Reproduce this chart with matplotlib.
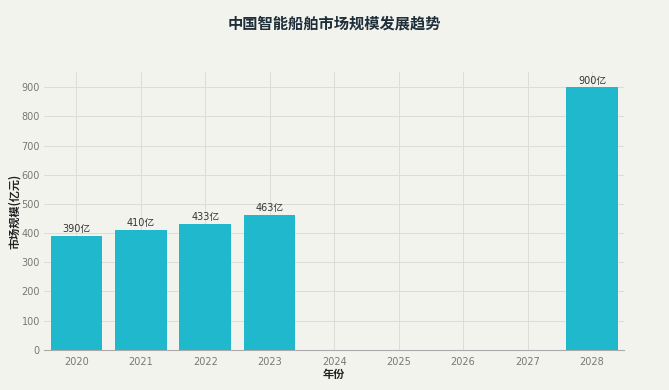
import matplotlib.pyplot as plt

plt.rcParams['font.family'] = ['Noto Sans CJK SC', 'DejaVu Sans']

years = ['2020', '2021', '2022', '2023', '2024', '2025', '2026', '2027', '2028']
market = [390, 410, 433, 463, 0, 0, 0, 0, 900]
labels = ['390亿', '410亿', '433亿', '463亿', '', '', '', '', '900亿']

bg = '#f3f3ee'
fig = plt.figure(figsize=(6.69, 3.9), dpi=100, facecolor=bg)
ax = fig.add_axes([0.066, 0.103, 0.867, 0.712], facecolor=bg)

x = range(len(years))
bars = ax.bar(x, market, width=0.8, color='#1fb8cd', zorder=3)
for b, lab in zip(bars, labels):
    if lab:
        ax.text(b.get_x() + b.get_width() / 2, b.get_height() + 6, lab,
                ha='center', va='bottom', fontsize=7, color='#333333', zorder=4,
                family=['DejaVu Sans', 'Noto Sans CJK SC'])

ax.set_xlim(-0.5, 8.5)
ax.set_ylim(0, 952)
ax.set_xticks(list(x))
ax.set_xticklabels(years)
ax.set_yticks(range(0, 1000, 100))
for t in ax.get_xticklabels() + ax.get_yticklabels():
    t.set_family('DejaVu Sans')
ax.grid(True, color='#dcdcd8', linewidth=0.7, zorder=0)
for s in ['top', 'right', 'left']:
    ax.spines[s].set_visible(False)
ax.spines['bottom'].set_color('#aaaaaa')
ax.tick_params(axis='both', length=0, labelsize=7, colors='#777777', pad=5)
ax.tick_params(axis='y', pad=3)

ax.set_xlabel('年份', fontsize=8, fontweight='bold', color='#222222', labelpad=1)
ax.set_ylabel('市场规模(亿元)', fontsize=8, fontweight='bold', color='#222222')
ax.yaxis.set_label_coords(-0.040, 0.5)
fig.text(0.5, 0.94, '中国智能船舶市场规模发展趋势', ha='center', va='center',
         fontsize=11, fontweight='bold', color='#1f2f3a')

fig.savefig('out.png', dpi=100, facecolor=bg)
